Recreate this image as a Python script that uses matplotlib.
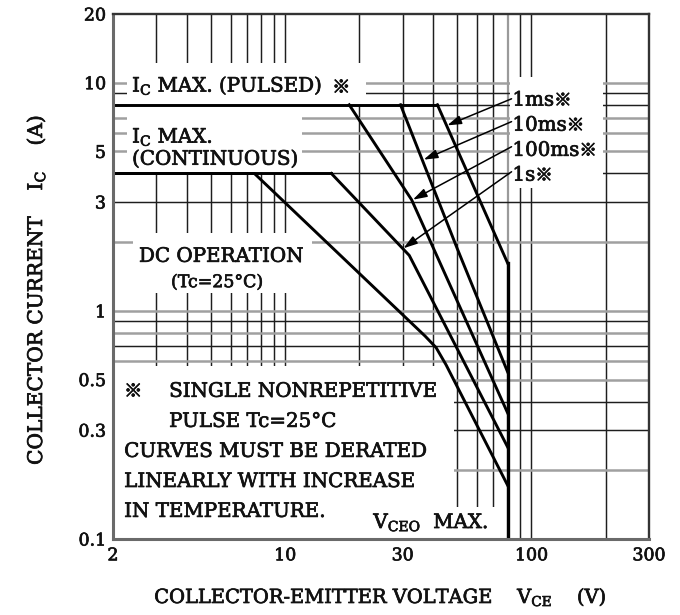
import matplotlib
matplotlib.use('Agg')
import matplotlib.pyplot as plt
import matplotlib.patheffects as pe
from matplotlib.patches import Rectangle

plt.rcParams['font.family'] = ['DejaVu Serif', 'Noto Sans CJK JP', 'DejaVu Sans']
plt.rcParams['mathtext.fontset'] = 'dejavuserif'

# ---------------- data ----------------
x_ticks = [2, 10, 30, 100, 300]
x_tick_labels = ['2', '10', '30', '100', '300']
y_ticks = [0.1, 0.3, 0.5, 1, 3, 5, 10, 20]
y_tick_labels = ['0.1', '0.3', '0.5', '1', '3', '5', '10', '20']

# limit lines (V, A)
ic_pulsed_v = [2, 41.5]
ic_pulsed_i = [8, 8]
ic_cont_v = [2, 15.4]
ic_cont_i = [4, 4]
vceo_v = [80, 80]
vceo_i = [1.62, 0.1]

# pulse curves
ms1_v = [41.5, 80]
ms1_i = [8, 1.62]
ms10_v = [29.4, 50, 80]
ms10_i = [8, 1.87, 0.54]
ms100_v = [18.2, 32.6, 80]
ms100_i = [8, 3.07, 0.357]
s1_v = [15.4, 31.9, 80]
s1_i = [4, 1.75, 0.253]
dc_v = [2, 7.5, 37, 41, 45, 80]
dc_i = [4, 4, 0.775, 0.69, 0.58, 0.172]

curve_labels = ['1ms', '10ms', '100ms', '1s']
label_y = [7.93, 6.16, 4.78, 3.72]
arrow_start_y = [8.5, 6.75, 5.24, 4.07]
arrow_tip = [(45.5, 6.5), (36.5, 4.6), (33.0, 3.07), (30.2, 1.88)]

x_grid = [3, 4, 5, 6, 7, 8, 9, 10, 20, 30, 40, 50, 60, 70, 80, 90, 100, 200]
y_grid = [0.2, 0.3, 0.4, 0.5, 0.6, 0.7, 0.8, 0.9, 1, 2, 3, 4, 5, 6, 7, 8, 9, 10]
x_grid_light = [80]
y_grid_light = [10, 7, 6, 5, 2, 1, 0.8, 0.6, 0.5, 0.2]

# ---------------- figure ----------------
W, H = 680, 615
fig = plt.figure(figsize=(W / 100, H / 100), dpi=100)
L, R, B, T = 113, 649, 539, 14
ax = fig.add_axes([L / W, (H - B) / H, (R - L) / W, (B - T) / H])
ax.set_xscale('log')
ax.set_yscale('log')
ax.set_xlim(2, 300)
ax.set_ylim(0.1, 20)

for xv in x_grid:
    if xv in x_grid_light:
        ax.axvline(xv, color='#9a9a9a', lw=1.6, zorder=1)
    else:
        ax.axvline(xv, color='#1e1e1e', lw=1.05, zorder=1)
for yv in y_grid:
    if yv in y_grid_light:
        ax.axhline(yv, color='#a0a0a0', lw=1.8, zorder=1)
    else:
        ax.axhline(yv, color='#1e1e1e', lw=1.05, zorder=1)

# white label areas covering the grid
boxes = [
    (2.28, 8.0, 21.3, 12.2),    # pulsed label
    (2.28, 4.0, 11.7, 8.0),     # continuous label
    (2.40, 1.2, 12.9, 2.19),    # DC operation
    (2.0, 0.1, 48.6, 0.574),    # note
    (40.0, 0.1, 75.0, 0.138),   # VCEO MAX
    (81.8, 3.45, 195.0, 10.6),  # pulse labels
]
for x0, y0, x1, y1 in boxes:
    ax.add_patch(Rectangle((x0, y0), x1 - x0, y1 - y0, facecolor='white',
                           edgecolor='none', zorder=2))

lw = 2.1
for xs, ys in [(ic_pulsed_v, ic_pulsed_i), (ic_cont_v, ic_cont_i),
               (ms1_v, ms1_i), (ms10_v, ms10_i), (ms100_v, ms100_i),
               (s1_v, s1_i), (dc_v, dc_i)]:
    ax.plot(xs, ys, color='black', lw=lw, zorder=3, solid_joinstyle='round')
ax.plot(vceo_v, vceo_i, color='black', lw=2.4, zorder=3)

for name, sp in ax.spines.items():
    if name in ('left', 'bottom'):
        sp.set_color('#6a6a6a')
        sp.set_linewidth(2.2)
    else:
        sp.set_color('#333333')
        sp.set_linewidth(1.7)
    sp.set_zorder(5)

heavy = [pe.withStroke(linewidth=0.5, foreground='#111111')]
heavy_star = [pe.withStroke(linewidth=0.7, foreground='#111111')]

ax.set_xticks(x_ticks, x_tick_labels)
ax.set_yticks(y_ticks, y_tick_labels)
ax.minorticks_off()
ax.tick_params(length=0, labelsize=12.5, colors='#111111')
ax.tick_params(axis='x', pad=6)
ax.tick_params(axis='y', pad=5)
for lab in ax.get_xticklabels() + ax.get_yticklabels():
    lab.set_path_effects(heavy)

fs = 14.3
kw = dict(fontsize=fs, color='#111111', zorder=4, path_effects=heavy)
cjk = ['Noto Sans CJK JP', 'DejaVu Sans']

def star_after(t, dx=6, size=13):
    ax.annotate('※', xy=(1, 0), xycoords=t, xytext=(dx, 0),
                textcoords='offset points', va='bottom', ha='left',
                fontsize=size, family=cjk, color='#111111', zorder=4,
                path_effects=heavy_star)

t = ax.text(2.39, 9.14, r'I$_{\rm C}$ MAX. (PULSED)', va='baseline', **kw)
star_after(t, dx=7)
ax.text(2.39, 5.46, r'I$_{\rm C}$ MAX.', va='baseline', **kw)
ax.text(2.39, 4.37, '(CONTINUOUS)', va='baseline', **kw)
ax.text(2.55, 1.64, 'DC OPERATION', va='baseline', **kw)
ax.text(3.44, 1.27, '(Tc=25°C)', va='baseline', fontsize=12.5, color='#111111',
        zorder=4, path_effects=heavy)

for lab, ly, sy, tip in zip(curve_labels, label_y, arrow_start_y, arrow_tip):
    t = ax.text(83.7, ly, lab, va='baseline', **kw)
    star_after(t, dx=0, size=12.5)
    ax.annotate('', xy=tip, xytext=(83.0, sy),
                arrowprops=dict(arrowstyle='-|>,head_length=0.7,head_width=0.22',
                                lw=1.1, color='black', shrinkA=0, shrinkB=0,
                                mutation_scale=12), zorder=4)

ax.text(2.22, 0.42, '※', va='baseline', fontsize=13, family=cjk, color='#111111',
        zorder=4, path_effects=heavy_star)
ax.text(3.38, 0.42, 'SINGLE NONREPETITIVE', va='baseline', **kw)
ax.text(3.38, 0.31, 'PULSE Tc=25°C', va='baseline', **kw)
ax.text(2.22, 0.229, 'CURVES MUST BE DERATED', va='baseline', **kw)
ax.text(2.22, 0.169, 'LINEARLY WITH INCREASE', va='baseline', **kw)
ax.text(2.22, 0.125, 'IN TEMPERATURE.', va='baseline', **kw)
ax.text(22.8, 0.1117, r'V$_{\rm CEO}$  MAX.', va='baseline', **kw)

fig.text(381 / W, 1 - 597 / H, r'COLLECTOR-EMITTER VOLTAGE    V$_{\rm CE}$    (V)',
         ha='center', va='center', fontsize=14, color='#111111', path_effects=heavy)
fig.text(36 / W, 1 - 290 / H, r'COLLECTOR CURRENT    I$_{\rm C}$    (A)',
         ha='center', va='center', rotation=90, fontsize=14.5, color='#111111',
         path_effects=heavy)

fig.savefig('out.png', dpi=100, facecolor='white')
